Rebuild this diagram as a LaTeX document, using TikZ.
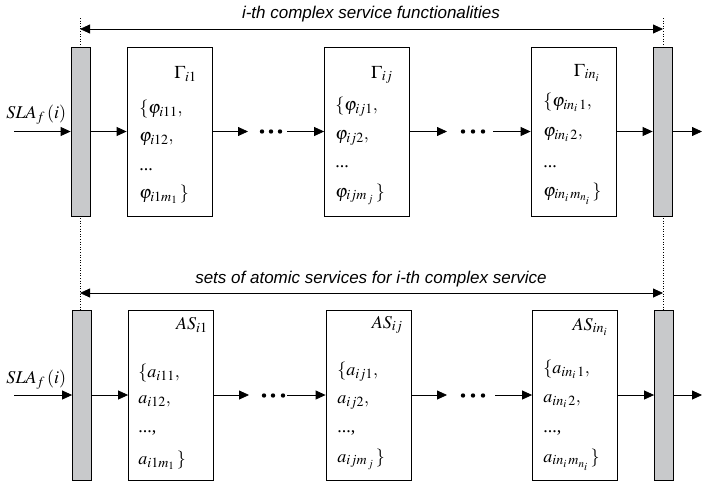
\documentclass[tikz,border=0pt]{standalone}
\usepackage{mathptmx}
\usepackage{fontspec}
\setmainfont{Liberation Serif}
\setsansfont{Liberation Sans}
\usetikzlibrary{arrows.meta}
\definecolor{barfill}{RGB}{200,201,203}
\DeclareMathSizes{18}{18}{14}{11}

\begin{document}
\begin{tikzpicture}
  [x=1pt,y=-1pt,line width=0.8pt,
   every node/.style={inner sep=0pt,font=\fontsize{18}{21}\selectfont},
   fbox/.style={draw,minimum width=85pt,minimum height=169pt},
   sbar/.style={draw,fill=barfill,minimum width=19pt,minimum height=169pt},
   flow/.style={-{Triangle[length=10pt,width=9pt]}},
   spanarrow/.style={{Triangle[length=10pt,width=9pt]}-{Triangle[length=10pt,width=9pt]}},
   guide/.style={dotted,line width=0.6pt},
   hd/.style={anchor=base east,text height=12pt,text depth=4pt},
   ln/.style={anchor=base west,text height=12pt,text depth=4pt},
   titletext/.style={anchor=base,font=\fontsize{17}{20}\selectfont\sffamily\itshape}]

  \useasboundingbox (0,0) rectangle (703,482);

  % dotted guides
  \coordinate (gL1) at (80,18);  \coordinate (gL2) at (80,310);
  \coordinate (gR1) at (663,18); \coordinate (gR2) at (663,310);
  \draw[guide] (gL1) -- (gL2);
  \draw[guide] (gR1) -- (gR2);

  % spans
  \coordinate (spA1) at (80,29);  \coordinate (spA2) at (663,29);
  \coordinate (spB1) at (80,293); \coordinate (spB2) at (663,293);
  \draw[spanarrow] (spA1) -- (spA2);
  \draw[spanarrow] (spB1) -- (spB2);
  \node[titletext] (titA) at (371,18) {i-th complex service functionalities};
  \node[titletext] (titB) at (371,283) {sets of atomic services for i-th complex service};

  % upper chain
  \node[sbar] (barA1) at (80.5,131.5) {};
  \node[fbox] (gamA) at (169.5,131.5) {};
  \node[fbox] (gamB) at (367,131.5) {};
  \node[fbox] (gamC) at (573.5,131.5) {};
  \node[sbar] (barA2) at (662.5,131.5) {};

  \node[ln] (slaA) at (6,118) {$SLA_{f}\,(i)$};
  \coordinate (inA) at (14,131.5);
  \coordinate (outA) at (702,131.5);
  \coordinate (gA1in) at (248,131.5); \coordinate (gA1out) at (287,131.5);
  \coordinate (gA2in) at (447,131.5); \coordinate (gA2out) at (493,131.5);

  \node[hd] (gamAh) at (197,78) {$\Gamma_{i1}$};
  \node[ln] (gamA1) at (139,113) {$\{\varphi_{i11},$};
  \node[ln] (gamA2) at (139,141) {$\varphi_{i12},$};
  \node[ln] (gamA3) at (139,170) {...};
  \node[ln] (gamA4) at (139,198) {$\varphi_{i1m_1}\,\}$};

  \node[hd] (gamBh) at (393,78) {$\Gamma_{ij}$};
  \node[ln] (gamB1) at (335,110) {$\{\varphi_{ij1},$};
  \node[ln] (gamB2) at (335,139) {$\varphi_{ij2},$};
  \node[ln] (gamB3) at (335,167) {...};
  \node[ln] (gamB4) at (335,197) {$\varphi_{ijm_{\,j}}\,\}$};

  \node[hd] (gamCh) at (600,76) {$\Gamma_{in_i}$};
  \node[ln] (gamC1) at (543,106) {$\{\varphi_{in_i\,1},$};
  \node[ln] (gamC2) at (543,136) {$\varphi_{in_i\,2},$};
  \node[ln] (gamC3) at (543,167) {...};
  \node[ln] (gamC4) at (543,196) {$\varphi_{in_i\,m_{n_i}}\,\}$};

  % lower chain
  \node[sbar,minimum height=170pt] (barB1) at (82,395) {};
  \node[fbox,minimum height=170pt] (asA) at (171,395) {};
  \node[fbox,minimum height=170pt] (asB) at (368.5,395) {};
  \node[fbox,minimum height=170pt] (asC) at (575,395) {};
  \node[sbar,minimum height=170pt] (barB2) at (664,395) {};

  \node[ln] (slaB) at (6,383) {$SLA_{f}\,(i)$};
  \coordinate (inB) at (14,395);
  \coordinate (outB) at (702,395);
  \coordinate (gB1in) at (249,395); \coordinate (gB1out) at (287,395);
  \coordinate (gB2in) at (447,395); \coordinate (gB2out) at (495,395);

  \node[hd] (asAh) at (208,329) {$AS_{i1}$};
  \node[ln] (asA1) at (138,377) {$\{a_{i11},$};
  \node[ln] (asA2) at (138,403) {$a_{i12},$};
  \node[ln] (asA3) at (138,432) {...,};
  \node[ln] (asA4) at (138,464) {$a_{i1m_1}\,\}$};

  \node[hd] (asBh) at (403,328) {$AS_{ij}$};
  \node[ln] (asB1) at (337,375) {$\{a_{ij1},$};
  \node[ln] (asB2) at (337,403) {$a_{ij2},$};
  \node[ln] (asB3) at (337,432) {...,};
  \node[ln] (asB4) at (337,462) {$a_{ijm_{\,j}}\,\}$};

  \node[hd] (asCh) at (608,330) {$AS_{in_i}$};
  \node[ln] (asC1) at (543,373) {$\{a_{in_i\,1},$};
  \node[ln] (asC2) at (543,402) {$a_{in_i\,2},$};
  \node[ln] (asC3) at (543,432) {...,};
  \node[ln] (asC4) at (543,462) {$a_{in_i\,m_{n_i}}\,\}$};

  \foreach \from/\to in {inA/barA1,barA1/gamA,gamA/gA1in,gA1out/gamB,gamB/gA2in,gA2out/gamC,gamC/barA2,barA2/outA,
                         inB/barB1,barB1/asA,asA/gB1in,gB1out/asB,asB/gB2in,gB2out/asC,asC/barB2,barB2/outB}
    \draw[flow] (\from) -- (\to);

  \foreach \x in {262,271,280,463,473,483}
    \fill (\x,131.5) circle (2.2pt);
  \foreach \x in {264,273,283,463,473,483}
    \fill (\x,395.5) circle (2.2pt);

\end{tikzpicture}
\end{document}
